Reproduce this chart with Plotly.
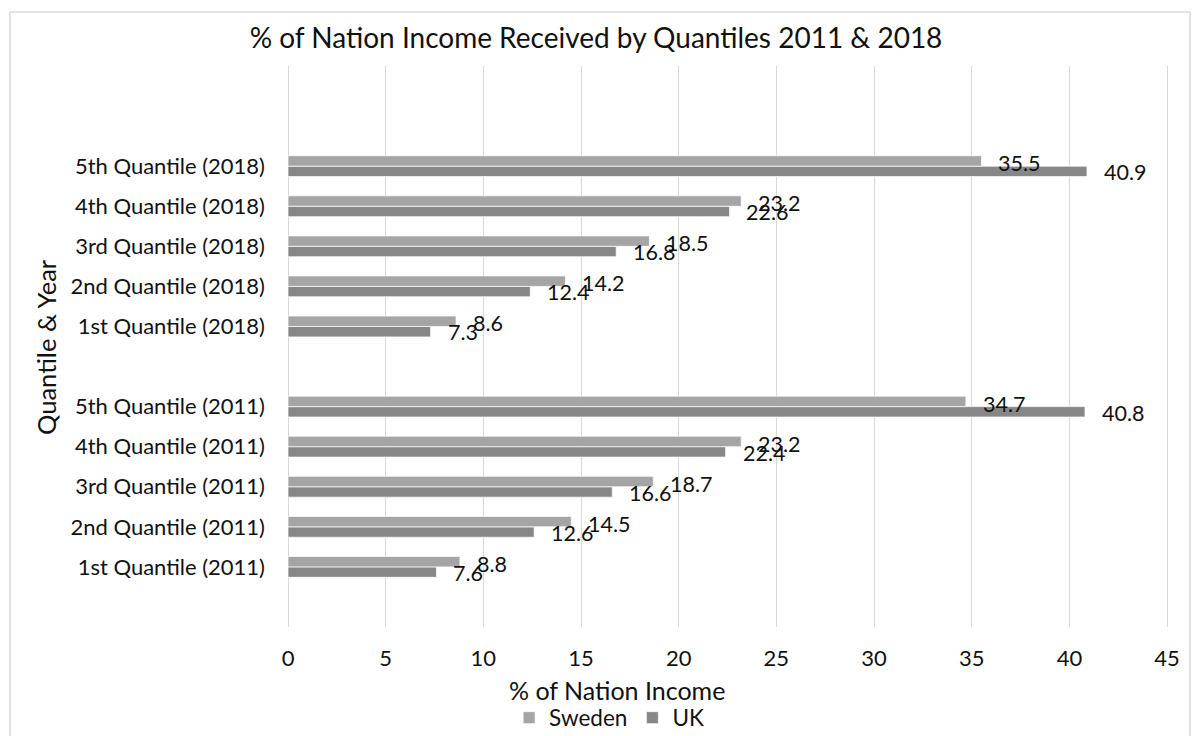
import plotly.graph_objects as go

categories = [
    "1st Quantile (2011)", "2nd Quantile (2011)", "3rd Quantile (2011)",
    "4th Quantile (2011)", "5th Quantile (2011)", " ",
    "1st Quantile (2018)", "2nd Quantile (2018)", "3rd Quantile (2018)",
    "4th Quantile (2018)", "5th Quantile (2018)",
]
sweden = [8.8, 14.5, 18.7, 23.2, 34.7, None, 8.6, 14.2, 18.5, 23.2, 35.5]
uk = [7.6, 12.6, 16.6, 22.4, 40.8, None, 7.3, 12.4, 16.8, 22.6, 40.9]
x_ticks = [0, 5, 10, 15, 20, 25, 30, 35, 40, 45]

FONT = "Lato, Carlito, Calibri, sans-serif"
TXT = "#111111"
W, H = 1192, 736
L, R, T, B = 288, 22, 66, 109
pw = W - L - R
ph = H - T - B

fig = go.Figure()
fig.add_trace(go.Bar(orientation="h", y=categories, x=uk, name="UK",
                     marker=dict(color="#878787", line=dict(color="rgba(255,255,255,0.7)", width=1)),
                     legendrank=2, hoverinfo="x+y"))
fig.add_trace(go.Bar(orientation="h", y=categories, x=sweden, name="Sweden",
                     marker=dict(color="#A5A5A5", line=dict(color="rgba(255,255,255,0.7)", width=1)),
                     legendrank=1, hoverinfo="x+y"))

annotations = []
for cat, v in zip(categories, sweden):
    if v is None:
        continue
    annotations.append(dict(x=v, y=cat, xref="x", yref="y", text=f"{v:.1f}",
                            showarrow=False, xanchor="left", yanchor="middle",
                            xshift=15, yshift=3, font=dict(family=FONT, size=21.5, color=TXT)))
for cat, v in zip(categories, uk):
    if v is None:
        continue
    annotations.append(dict(x=v, y=cat, xref="x", yref="y", text=f"{v:.1f}",
                            showarrow=False, xanchor="left", yanchor="middle",
                            xshift=15, yshift=-6, font=dict(family=FONT, size=21.5, color=TXT)))

# axis titles
annotations.append(dict(text="% of Nation Income", xref="paper", yref="paper",
                        x=(617 - L) / pw, y=-(690 - (H - B)) / ph,
                        xanchor="center", yanchor="middle", showarrow=False,
                        font=dict(family=FONT, size=25, color=TXT)))
annotations.append(dict(text="Quantile & Year", xref="paper", yref="paper",
                        x=(46 - L) / pw, y=(H - B - 347) / ph, textangle=-90,
                        xanchor="center", yanchor="middle", showarrow=False,
                        font=dict(family=FONT, size=25.5, color=TXT)))

fig.add_shape(type="rect", xref="paper", yref="paper", layer="below",
              x0=(10 - L) / pw, x1=(1190 - L) / pw,
              y0=-0.5, y1=(H - B - 12) / ph,
              line=dict(color="#D9D9D9", width=1.5), fillcolor="rgba(0,0,0,0)")

fig.update_layout(
    width=W, height=H,
    margin=dict(l=L, r=R, t=T, b=B, autoexpand=False),
    paper_bgcolor="white", plot_bgcolor="white",
    font=dict(family=FONT, size=22, color=TXT),
    barmode="group", bargap=0.48, bargroupgap=0,
    title=dict(text="% of Nation Income Received by Quantiles 2011 & 2018",
               x=0.5, xref="container", xanchor="center",
               y=1 - 38 / H, yref="container", yanchor="middle",
               font=dict(family=FONT, size=28, color=TXT)),
    xaxis=dict(range=[0, 45.15], tickmode="array", tickvals=x_ticks,
               showgrid=True, gridcolor="#D9D9D9", gridwidth=1,
               zeroline=True, zerolinecolor="#D9D9D9", zerolinewidth=1,
               showline=False, ticks="", ticklabelstandoff=16,
               tickfont=dict(family=FONT, size=22, color=TXT),
               fixedrange=True),
    yaxis=dict(type="category", categoryorder="array", categoryarray=categories,
               range=[-1.5, 12.5], showgrid=False, zeroline=False, showline=False,
               ticks="", ticklabelstandoff=22,
               tickfont=dict(family=FONT, size=22, color=TXT),
               fixedrange=True),
    legend=dict(orientation="h", xref="container", yref="container",
                x=0.511, xanchor="center", y=1 - 718 / H, yanchor="middle",
                font=dict(family=FONT, size=22.5, color=TXT),
                itemwidth=30, tracegroupgap=0, bgcolor="rgba(0,0,0,0)"),
    annotations=annotations,
    showlegend=True,
)

fig.write_html("out.html")
